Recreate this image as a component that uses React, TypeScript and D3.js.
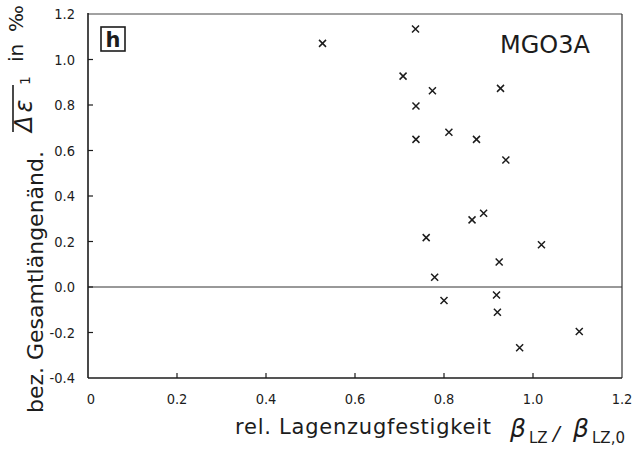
import React from "react";
import * as d3 from "d3";

const xs = [0.527, 0.736, 0.708, 0.774, 0.927, 0.737, 0.737, 0.811, 0.873, 0.939, 0.863, 0.889, 0.760, 1.019, 0.924, 0.779, 0.800, 0.918, 0.920, 1.104, 0.970];
const ys = [1.071, 1.134, 0.927, 0.863, 0.873, 0.796, 0.649, 0.680, 0.649, 0.558, 0.295, 0.324, 0.217, 0.186, 0.110, 0.043, -0.059, -0.035, -0.111, -0.196, -0.267];
const xTicks = [0, 0.2, 0.4, 0.6, 0.8, 1.0, 1.2];
const xTickLabels = ["0", "0.2", "0.4", "0.6", "0.8", "1.0", "1.2"];
const yTicks = [1.2, 1.0, 0.8, 0.6, 0.4, 0.2, 0.0, -0.2, -0.4];
const yTickLabels = ["1.2", "1.0", "0.8", "0.6", "0.4", "0.2", "0.0", "-0.2", "-0.4"];

const W = 640, H = 449;
const L = 88, R = 622, T = 14, B = 378;

export default function App() {
  const x = d3.scaleLinear().domain([0, 1.2]).range([L, R]);
  const y = d3.scaleLinear().domain([-0.4, 1.2]).range([B, T]);
  const ink = "#1c1c1c";
  const tickFont = "'DejaVu Sans Condensed', 'DejaVu Sans', sans-serif";
  const font = "'DejaVu Sans', sans-serif";
  const m = 3.5;
  return (
    <svg width={W} height={H} style={{ position: "absolute", left: 0, top: 0, background: "#fff" }}>
      <rect width={W} height={H} fill="#fff" />
      {/* frame */}
      <line x1={L} y1={T} x2={R} y2={T} stroke="#444" strokeWidth={1} />
      <line x1={R} y1={T} x2={R} y2={B} stroke="#333" strokeWidth={1.2} />
      <line x1={L} y1={T - 1} x2={L} y2={B} stroke={ink} strokeWidth={1.6} />
      <line x1={L} y1={B} x2={R} y2={B} stroke={ink} strokeWidth={1.6} />
      {/* zero line */}
      <line x1={L} y1={y(0)} x2={R} y2={y(0)} stroke="#333" strokeWidth={1} />
      {/* y ticks */}
      {yTicks.map((t, i) => (
        <g key={"yt" + i}>
          {t > -0.4 && t < 1.2 && (
            <line x1={L} x2={L + 5} y1={y(t)} y2={y(t)} stroke={ink} strokeWidth={1.2} />
          )}
          <text x={75} y={y(t) + 5} textAnchor="end" fontSize={14.5} fontFamily={tickFont} fill={ink}>
            {yTickLabels[i]}
          </text>
        </g>
      ))}
      {/* x ticks */}
      {xTicks.map((t, i) => (
        <g key={"xt" + i}>
          {t > 0 && t < 1.2 && (
            <line x1={x(t)} x2={x(t)} y1={B} y2={B - 5} stroke={ink} strokeWidth={1.2} />
          )}
          <text x={x(t) + (t === 0 ? 3 : 0)} y={404} textAnchor="middle" fontSize={14.5} fontFamily={tickFont} fill={ink}>
            {xTickLabels[i]}
          </text>
        </g>
      ))}
      {/* markers */}
      {xs.map((v, i) => {
        const cx = x(v), cy = y(ys[i]);
        return (
          <path key={"p" + i} d={`M${cx - m},${cy - m}L${cx + m},${cy + m}M${cx - m},${cy + m}L${cx + m},${cy - m}`} stroke={ink} strokeWidth={1.5} fill="none" />
        );
      })}
      {/* panel label */}
      <rect x={101} y={27} width={24} height={24} fill="none" stroke={ink} strokeWidth={1.6} />
      <text x={113} y={47} textAnchor="middle" fontSize={21} fontWeight="bold" fontFamily={font} fill={ink}>h</text>
      <text x={500} y={53} fontSize={24} fontFamily={font} fill={ink}>MGO3A</text>
      {/* x title */}
      <text x={235} y={434} fontSize={21} fontFamily={font} fill={ink} textLength={256} lengthAdjust="spacing">
        rel. Lagenzugfestigkeit
      </text>
      <text x={510} y={437} fontSize={25} fontStyle="italic" fontFamily={font} fill={ink}>β</text>
      <text x={529} y={443} fontSize={15} fontFamily={font} fill={ink}>LZ</text>
      <text x={553} y={440} fontSize={20} fontStyle="italic" fontFamily={font} fill={ink}>/</text>
      <text x={573} y={437} fontSize={25} fontStyle="italic" fontFamily={font} fill={ink}>β</text>
      <text x={592} y={443} fontSize={15} fontFamily={font} fill={ink}>LZ,0</text>
      {/* y title */}
      <text transform="translate(43,413) rotate(-90)" fontSize={22} fontFamily={font} fill={ink}>
        bez. Gesamtlängenänd.
      </text>
      <g transform="translate(32,132) rotate(-90)">
        <text x={0} y={0} fontSize={24} fontStyle="italic" fontFamily={font} fill={ink} letterSpacing={3}>Δε</text>
        <line x1={0} x2={47} y1={-19} y2={-19} stroke={ink} strokeWidth={1.6} />
        <text x={47} y={-2} fontSize={14} fontFamily={font} fill={ink}>1</text>
        <text x={70} y={-9} fontSize={20} fontFamily={font} fill={ink}>in</text>
        <text x={100} y={-9} fontSize={20} fontFamily={font} fill={ink}>‰</text>
      </g>
    </svg>
  );
}
